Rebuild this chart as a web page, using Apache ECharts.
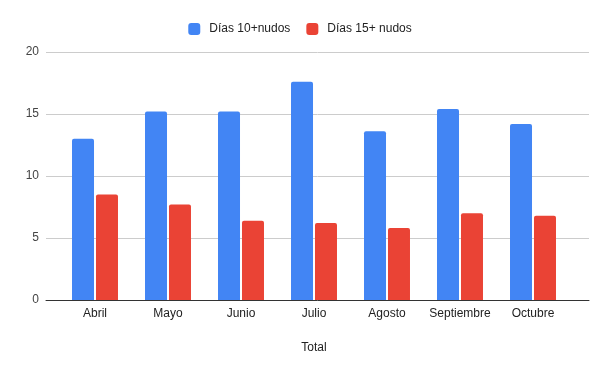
<!DOCTYPE html>
<html>
<head>
<meta charset="utf-8">
<script src="https://cdn.jsdelivr.net/npm/echarts@6/dist/echarts.min.js"></script>
<style>html,body{margin:0;padding:0;background:#fff}#c{width:600px;height:371px}</style>
</head>
<body>
<div id="c"></div>
<script>
var categories = ['Abril', 'Mayo', 'Junio', 'Julio', 'Agosto', 'Septiembre', 'Octubre'];
var dias10 = [13.0, 15.2, 15.2, 17.6, 13.6, 15.4, 14.2];
var dias15 = [8.5, 7.7, 6.4, 6.2, 5.8, 7.0, 6.8];
var seriesNames = ['Días 10+nudos', 'Días 15+ nudos'];
var yTicks = { min: 0, max: 20, interval: 5 };
var xTitle = 'Total';

var font = '"Liberation Sans", Arial, sans-serif';
var chart = echarts.init(document.getElementById('c'), null, { renderer: 'canvas' });
chart.setOption({
  animation: false,
  textStyle: { fontFamily: font },
  legend: {
    top: 18,
    left: 'center',
    itemWidth: 12,
    itemHeight: 12,
    itemGap: 16,
    icon: 'roundRect',
    textStyle: { color: '#222', fontSize: 12, fontFamily: font, padding: [0, 0, 0, 4] },
    data: seriesNames
  },
  grid: [
    { left: 46, right: 11, top: 52, bottom: 71 },
    { left: 58.5, width: 511, top: 52, bottom: 71 }
  ],
  xAxis: [
    { gridIndex: 0, type: 'category', data: [''],
      axisLine: { show: true, lineStyle: { color: '#333', width: 1 } },
      axisTick: { show: false }, axisLabel: { show: false }, splitLine: { show: false } },
    { gridIndex: 1, type: 'category', data: categories,
      axisLine: { show: false }, axisTick: { show: false },
      axisLabel: { color: '#222', fontSize: 12, margin: 8, interval: 0, fontFamily: font },
      name: xTitle, nameLocation: 'middle', nameGap: 42,
      nameTextStyle: { color: '#222', fontSize: 12, fontFamily: font } }
  ],
  yAxis: [
    { gridIndex: 0, type: 'value', min: yTicks.min, max: yTicks.max, interval: yTicks.interval,
      axisLine: { show: false }, axisTick: { show: false },
      axisLabel: { color: '#444', fontSize: 12, margin: 7, fontFamily: font },
      splitLine: { lineStyle: { color: '#cccccc', width: 1 } } },
    { gridIndex: 1, type: 'value', min: yTicks.min, max: yTicks.max, interval: yTicks.interval, show: false,
      splitLine: { show: false } }
  ],
  series: [
    { name: seriesNames[0], type: 'bar', xAxisIndex: 1, yAxisIndex: 1, data: dias10,
      barWidth: 22, barGap: '9%', itemStyle: { color: '#4285F4', borderRadius: [2, 2, 0, 0] } },
    { name: seriesNames[1], type: 'bar', xAxisIndex: 1, yAxisIndex: 1, data: dias15,
      barWidth: 22, barGap: '9%', itemStyle: { color: '#EA4335', borderRadius: [2, 2, 0, 0] } }
  ]
});
</script>
</body>
</html>
